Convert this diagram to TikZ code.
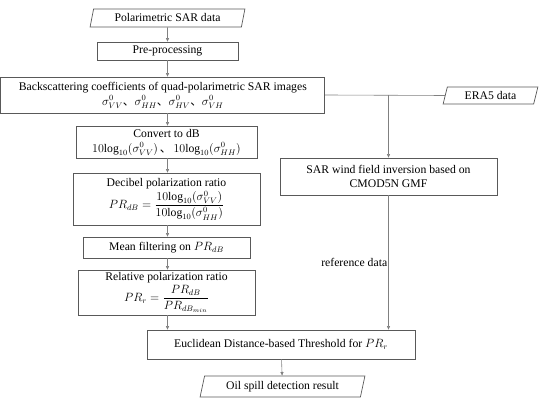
\documentclass[tikz,border=0pt]{standalone}
\usepackage{amsmath}
\usepackage{fontspec}
\setmainfont{Liberation Serif}
\newfontfamily\cjk{Noto Sans CJK SC}
\usetikzlibrary{shapes.geometric,arrows.meta}
\newcommand{\dun}{\mbox{\cjk 、}}
\begin{document}
\begin{tikzpicture}[x=1pt,y=-1pt,
  every node/.style={font=\rmfamily\fontsize{11.7}{13.5}\selectfont, text=black},
  box/.style={draw=black!65, line width=0.7pt, rectangle, inner sep=1pt, align=center},
  para/.style={draw=black!65, line width=0.7pt, trapezium, trapezium left angle=73, trapezium right angle=107, trapezium stretches=true, inner sep=0pt},
  conn/.style={draw=black!50, line width=0.6pt},
  arr/.style={conn, -{Triangle[length=3.5pt,width=3pt]}}]
\path[use as bounding box] (0,0) rectangle (550,403);
\node[para, minimum width=155, minimum height=18] (pol) at (167.5,18) {Polarimetric SAR data};
\node[box, minimum width=141, minimum height=18] (pre) at (167.5,51) {Pre-processing};
\node[box, minimum width=324, minimum height=36] (back) at (162.8,95) {Backscattering coefficients of quad-polarimetric SAR images\\[1.5pt]
  $\sigma^0_{VV}$\dun$\sigma^0_{HH}$\dun$\sigma^0_{HV}$\dun$\sigma^0_{VH}$};
\node[para, minimum width=95, minimum height=17] (era) at (490.5,95.5) {ERA5 data};
\node[box, minimum width=181, minimum height=32] (conv) at (166.5,142) {Convert to dB\\[1.5pt]
  $10\mathrm{log}_{10}(\sigma^0_{VV})$\,\dun\,$10\mathrm{log}_{10}(\sigma^0_{HH})$};
\node[box, minimum width=187, minimum height=52] (dec) at (166.5,199) {Decibel polarization ratio\\[1.5pt]
  $PR_{dB}=\dfrac{10\mathrm{log}_{10}(\sigma^0_{VV})}{10\mathrm{log}_{10}(\sigma^0_{HH})}$};
\node[box, minimum width=167, minimum height=21] (mean) at (166.5,247.5) {Mean filtering on $PR_{dB}$};
\node[box, minimum width=177, minimum height=45] (rel) at (166.5,292.5) {Relative polarization ratio\\[1pt]
  $PR_r=\dfrac{PR_{dB}}{PR_{dB_{min}}}$};
\node[box, minimum width=217, minimum height=37] (wind) at (388.5,176.5) {SAR wind field inversion based on\\CMOD5N GMF};
\node[box, minimum width=268, minimum height=29] (euc) at (281,344.5) {Euclidean Distance-based Threshold for $PR_r$};
\node[para, minimum width=165, minimum height=21] (oil) at (282.5,386.5) {Oil spill detection result};
\coordinate (j) at (wind.north |- back.east);
\draw[arr] (pol) -- (pre);
\draw[arr] (pre) -- (back.north -| pre);
\draw[arr] (back.south -| pre) -- (conv.north -| pre);
\draw[arr] (conv.south -| pre) -- (dec.north -| pre);
\draw[arr] (dec.south -| pre) -- (mean.north -| pre);
\draw[arr] (mean.south -| pre) -- (rel.north -| pre);
\draw[arr] (rel.south -| pre) -- (euc.north -| pre);
\draw[conn] (back.east) -- (era.west);
\draw[arr] (j) -- (wind.north);
\draw[arr] (wind.south) -- node[left, pos=0.5, inner sep=1pt] {reference data} (euc.north -| wind.south);
\draw[arr] (euc) -- (oil);
\end{tikzpicture}
\end{document}
